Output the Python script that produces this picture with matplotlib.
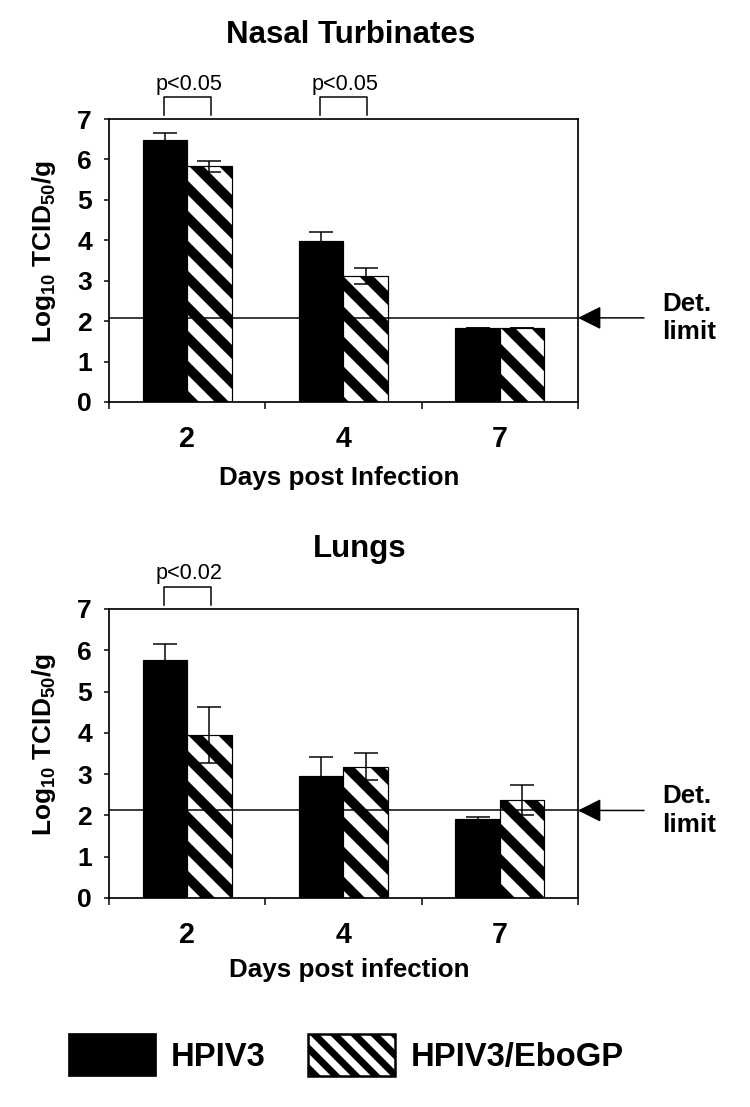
import matplotlib
matplotlib.use("Agg")
import matplotlib.pyplot as plt
from matplotlib.patches import Patch
from matplotlib.transforms import blended_transform_factory
import numpy as np

# data
days = ["2", "4", "7"]

nasal_hpiv3 = [6.49, 3.99, 1.83]
nasal_hpiv3_err = [0.16, 0.22, 0.0]
nasal_ebogp = [5.83, 3.12, 1.83]
nasal_ebogp_err = [0.14, 0.20, 0.0]
nasal_detlimit = 2.08
nasal_pvalues = {0: "p<0.05", 1: "p<0.05"}

lung_hpiv3 = [5.77, 2.95, 1.91]
lung_hpiv3_err = [0.38, 0.47, 0.05]
lung_ebogp = [3.95, 3.18, 2.37]
lung_ebogp_err = [0.68, 0.32, 0.36]
lung_detlimit = 2.12
lung_pvalues = {0: "p<0.02"}

# dpi chosen so the hatch spacing comes out like the original stripes
DPI = 180


def px(v):
    # sizes below are given in output pixels
    return v * 72.0 / DPI


plt.rcParams["font.family"] = ["Liberation Sans", "DejaVu Sans"]
plt.rcParams["font.weight"] = "bold"
plt.rcParams["mathtext.default"] = "regular"
plt.rcParams["hatch.linewidth"] = px(10)
plt.rcParams["hatch.color"] = "black"

fig = plt.figure(figsize=(750 / DPI, 1107 / DPI), dpi=DPI)
fig.patch.set_facecolor("white")

bar_w = 0.285
thin = px(1.5)


def draw_panel(ax, title, title_xy, xlabel, xlabel_x, xlabel_y, hp, hp_err, eb, eb_err, det, pvals):
    x = np.arange(len(days))
    ax.bar(x - bar_w / 2, hp, bar_w, color="black", edgecolor="black", linewidth=px(1.2), zorder=2)
    ax.bar(x + bar_w / 2, eb, bar_w, color="white", edgecolor="black", linewidth=px(1.2),
           hatch="\\\\", zorder=2)
    ax.errorbar(x - bar_w / 2, hp, yerr=hp_err, fmt="none", ecolor="black",
                elinewidth=thin, capsize=px(11.7), capthick=thin, zorder=3)
    ax.errorbar(x + bar_w / 2, eb, yerr=eb_err, fmt="none", ecolor="black",
                elinewidth=thin, capsize=px(11.7), capthick=thin, zorder=3)

    ax.set_xlim(-0.5, len(days) - 0.5)
    ax.set_ylim(0, 7)
    ax.set_yticks(range(0, 8))
    ax.set_xticks(x)
    ax.set_xticklabels(days)
    ax.set_xticks(np.arange(-0.5, len(days)), minor=True)
    ax.tick_params(axis="x", which="major", length=0, pad=px(23.3), labelsize=px(28.7))
    ax.tick_params(axis="x", which="minor", length=px(7), width=thin, direction="out")
    ax.tick_params(axis="y", length=px(5), width=thin, direction="out", pad=px(12),
                   labelsize=px(26.5))
    for lab in ax.get_xticklabels() + ax.get_yticklabels():
        lab.set_fontweight("bold")
    for sp in ax.spines.values():
        sp.set_linewidth(px(1.7))

    ax.set_ylabel(r"Log$_{10}$ TCID$_{50}$/g", fontsize=px(26.3), fontweight="bold")
    ax.yaxis.set_label_coords(-0.108, 0.53)
    ax.set_xlabel(xlabel, fontsize=px(26), fontweight="bold")
    ax.xaxis.set_label_coords(xlabel_x, xlabel_y)

    fig.text(title_xy[0], title_xy[1], title, fontsize=px(31.3), fontweight="bold",
             ha="center", va="baseline")

    # detection limit
    ax.axhline(det, color="black", lw=thin, zorder=4)
    ax.annotate("", xy=(1.0, det), xycoords=("axes fraction", "data"),
                xytext=(644 / 750, det), textcoords=("figure fraction", "data"),
                arrowprops=dict(arrowstyle="-|>,head_length=0.4,head_width=0.2",
                                mutation_scale=px(50), color="black", lw=thin,
                                shrinkA=0, shrinkB=0),
                annotation_clip=False)
    trans = blended_transform_factory(fig.transFigure, ax.transData)
    ax.text(662 / 750, det, "Det.\nlimit", transform=trans, fontsize=px(26),
            fontweight="bold", ha="left", va="center", linespacing=1.25)

    # significance brackets
    for i, txt in pvals.items():
        ax.plot([i - 0.15, i - 0.15, i + 0.15, i + 0.15], [7.1, 7.54, 7.54, 7.1],
                color="black", lw=thin, clip_on=False)
        ax.text(i + 0.01, 7.72, txt, fontsize=px(21.7), fontweight="normal",
                ha="center", va="baseline")


ax1 = fig.add_axes([0.1453, 0.6369, 0.6253, 0.2556])
draw_panel(ax1, "Nasal Turbinates", (351 / 750, 1 - 43 / 1107), "Days post Infection",
           0.49, -0.225, nasal_hpiv3, nasal_hpiv3_err, nasal_ebogp, nasal_ebogp_err,
           nasal_detlimit, nasal_pvalues)

ax2 = fig.add_axes([0.1453, 0.1888, 0.6253, 0.2611])
draw_panel(ax2, "Lungs", (360 / 750, 1 - 557 / 1107), "Days post infection",
           0.512, -0.208, lung_hpiv3, lung_hpiv3_err, lung_ebogp, lung_ebogp_err,
           lung_detlimit, lung_pvalues)

# legend swatch has finer stripes than the bars
plt.rcParams["hatch.linewidth"] = px(7)
handles = [Patch(facecolor="black", edgecolor="black", linewidth=px(1.7)),
           Patch(facecolor="white", edgecolor="black", linewidth=px(2.5), hatch="\\\\\\")]
fig.legend(handles, ["HPIV3", "HPIV3/EboGP"], loc="center", bbox_to_anchor=(346 / 750, 0.047),
           ncol=2, frameon=False, handlelength=2.66, handleheight=1.62,
           handletextpad=0.46, columnspacing=1.31, prop={"weight": "bold", "size": px(32.7)})

fig.savefig("out.png", dpi=DPI, facecolor="white")
